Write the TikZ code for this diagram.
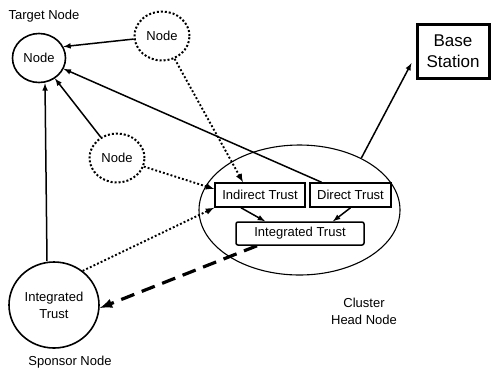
\documentclass[tikz,border=0pt]{standalone}
\usepackage{fontspec}
\setmainfont{Liberation Sans}
\usetikzlibrary{shapes.geometric}
\pgfdeclarelayer{edgelayer}
\pgfdeclarelayer{nodelayer}
\pgfsetlayers{edgelayer,nodelayer,main}
\tikzstyle{none}=[inner sep=0pt, align=center, font=\fontsize{13}{17}\selectfont]
\tikzstyle{member}=[ellipse, fill=white, draw=black, line width=1.6pt, inner sep=0pt, minimum width=53pt, minimum height=49pt, align=center, font=\fontsize{13}{17}\selectfont]
\tikzstyle{neighbour}=[member, line width=2pt, dash pattern=on 2pt off 2pt, minimum width=55pt, minimum height=49pt]
\tikzstyle{trustbox}=[rectangle, fill=white, draw=black, line width=1.5pt, minimum height=24pt, font=\fontsize{13}{17}\selectfont]
\tikzstyle{cluster}=[ellipse, draw=black, line width=1.1pt, minimum width=201pt, minimum height=130pt]
\tikzstyle{station}=[rectangle, fill=white, draw=black, line width=3pt, align=center, minimum width=72pt, minimum height=54pt, font=\fontsize{17}{21}\selectfont]
\tikzstyle{transition}=[-latex, draw=black, line width=1.5pt]
\tikzstyle{hint}=[transition, line width=1.9pt, dash pattern=on 1.9pt off 2.1pt]
\tikzstyle{feedback}=[-latex, draw=black, line width=3.2pt, dash pattern=on 14pt off 8pt]

\begin{document}
\begin{tikzpicture}[x=1pt, y=-1pt]
	\useasboundingbox (0, 0) rectangle (492, 368);
	\begin{pgfonlayer}{nodelayer}
		\node [style=member] (0) at (39, 58) {Node};
		\node [style=neighbour] (1) at (162, 36) {Node};
		\node [style=neighbour] (2) at (117, 158) {Node};
		\node [style=trustbox, minimum width=90pt] (3) at (260, 195) {Indirect Trust};
		\node [style=trustbox, minimum width=81pt] (4) at (350.5, 195) {Direct Trust};
		\node [style=trustbox, rounded corners=2pt, minimum width=128pt, minimum height=23pt] (5) at (300, 233.5) {Integrated Trust};
		\node [style=member, minimum width=90pt, minimum height=86pt] (6) at (54, 305) {Integrated\\Trust};
		\node [style=cluster] (7) at (299.5, 210) {};
		\node [style=station] (8) at (453, 51) {Base\\Station};
		\node [style=none] (9) at (44, 16) {Target Node};
		\node [style=none] (10) at (70, 362) {Sponsor Node};
		\node [style=none] (11) at (364, 311) {Cluster\\Head Node};
	\end{pgfonlayer}
	\begin{pgfonlayer}{edgelayer}
		\draw [style=transition] (1) to (0.25);
		\draw [style=hint] (1) to ([xshift=-17pt]3.north);
		\draw [style=transition] (2) to (0);
		\draw [style=hint] (2) to ([yshift=6pt]3.west);
		\draw [style=transition] (4) to (0);
		\draw [style=transition] ([xshift=-7pt]6.north) to ([xshift=6pt]0.south);
		\draw [style=hint] (6.50) to (3.south west);
		\draw [style=feedback] ([xshift=-43pt]5.south) to ([yshift=-3pt]6.east);
		\draw [style=transition] ([xshift=-19pt]3.south) to ([xshift=-35pt]5.north);
		\draw [style=transition] (4.south) to ([xshift=33pt]5.north);
		\draw [style=transition] (7.40) to ([xshift=-4pt, yshift=-12pt]8.west);
	\end{pgfonlayer}
\end{tikzpicture}
\end{document}
